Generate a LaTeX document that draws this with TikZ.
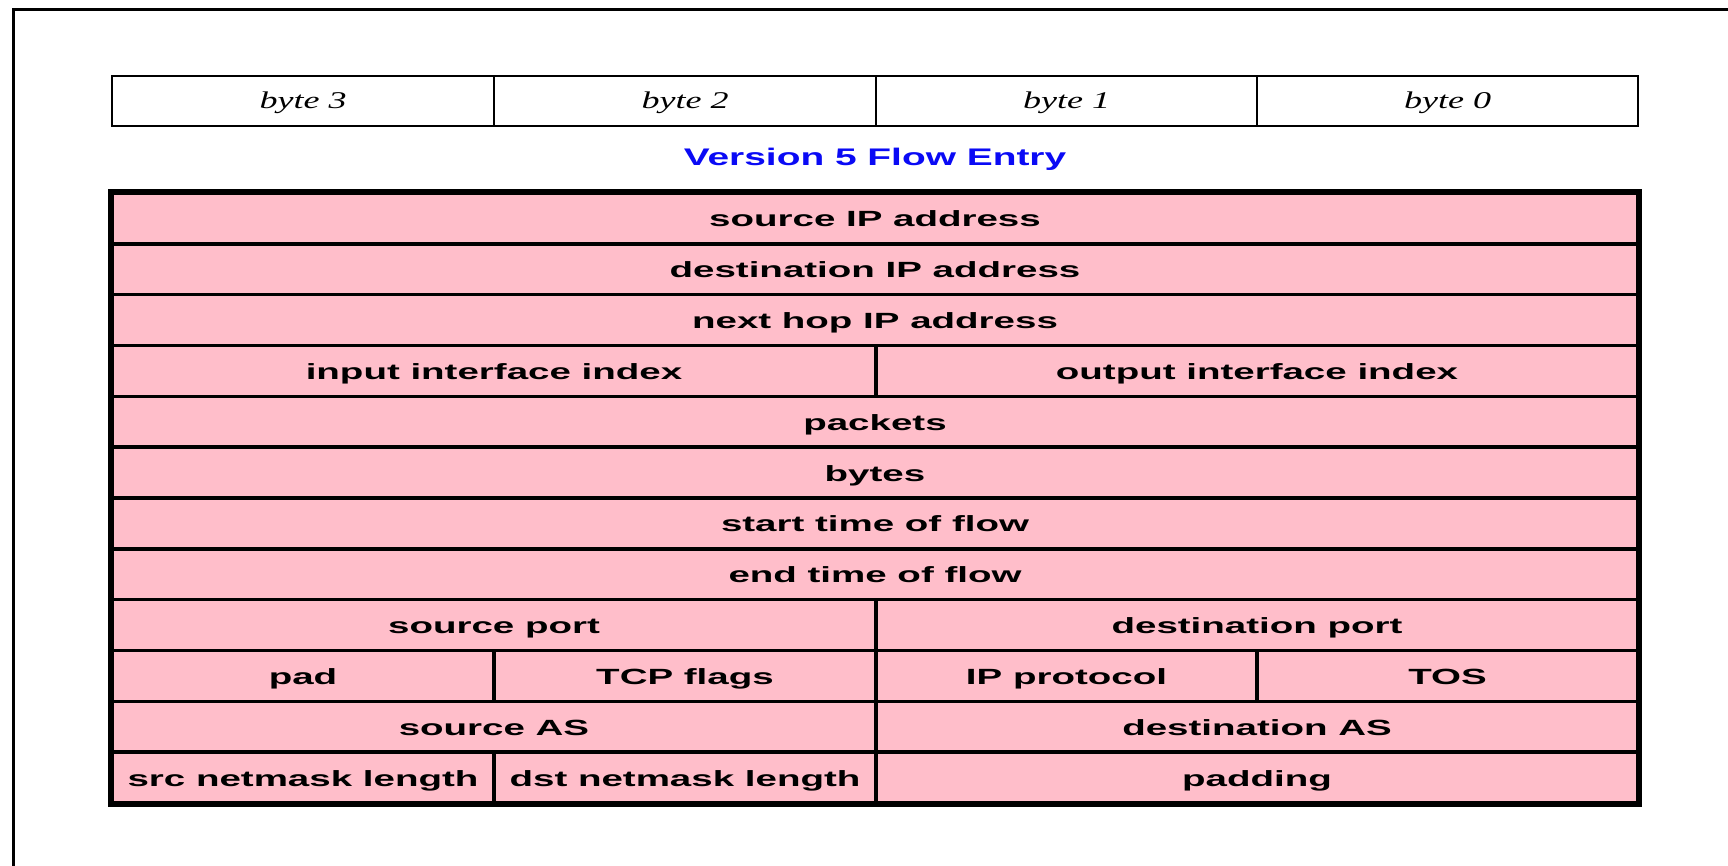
\documentclass[tikz,border=0pt]{standalone}
\usepackage{fontspec}
\newfontfamily\cellfont{Liberation Sans}[FakeStretch=1.75]
\newfontfamily\titlefont{Liberation Sans}[FakeStretch=1.62]
\newfontfamily\bytefont{Liberation Serif}[FakeStretch=1.5]
\definecolor{cellpink}{RGB}{255,190,202}
\definecolor{titleblue}{RGB}{10,10,245}
\tikzset{
  cellbox/.style={draw=black, fill=cellpink, line width=3.5pt, inner sep=0pt,
    text height=21pt, text depth=4pt,
    font=\cellfont\bfseries\fontsize{22}{24}\selectfont},
  bytebox/.style={draw=black, fill=white, line width=2pt, inner sep=0pt,
    text height=19pt, text depth=5pt,
    font=\bytefont\itshape\fontsize{24}{26}\selectfont},
  titletext/.style={text=titleblue, inner sep=0pt,
    font=\titlefont\bfseries\fontsize{24}{26}\selectfont},
}
\newcommand\flowcell[5]{%
  \pgfmathsetmacro\cya{193+(#4-1)*50.833}%
  \pgfmathsetmacro\cyc{\cya+25.4167}%
  \pgfmathsetmacro\cxc{(#2+#3)/2}%
  \pgfmathsetmacro\cw{#3-#2}%
  \node[cellbox, minimum width=\cw pt, minimum height=50.833pt] (#1) at (\cxc,\cyc) {#5};%
}
\newcommand\bytecell[4]{%
  \pgfmathsetmacro\cxc{(#2+#3)/2}%
  \pgfmathsetmacro\cw{#3-#2}%
  \node[bytebox, minimum width=\cw pt, minimum height=50pt] (#1) at (\cxc,101) {#4};%
}
\begin{document}
\begin{tikzpicture}[x=1pt,y=-1pt]
\useasboundingbox (0,0) rectangle (1728,865);
\fill[white] (0,0) rectangle (1728,865);
% outer frame (left and top edges only)
\draw[line width=3pt] (13,870) -- (13,9) -- (1735,9);
% byte header
\bytecell{b3}{112}{494}{byte 3}
\bytecell{b2}{494}{876}{byte 2}
\bytecell{b1}{876}{1257}{byte 1}
\bytecell{b0}{1257}{1638}{byte 0}
% title
\node[titletext] (title) at (875,159) {Version 5 Flow Entry};
% flow entry cells
\flowcell{srcip}{112}{1638}{1}{source IP address}
\flowcell{dstip}{112}{1638}{2}{destination IP address}
\flowcell{nexthop}{112}{1638}{3}{next hop IP address}
\flowcell{inif}{112}{876}{4}{input interface index}
\flowcell{outif}{876}{1638}{4}{output interface index}
\flowcell{packets}{112}{1638}{5}{packets}
\flowcell{bytes}{112}{1638}{6}{bytes}
\flowcell{start}{112}{1638}{7}{start time of flow}
\flowcell{end}{112}{1638}{8}{end time of flow}
\flowcell{srcport}{112}{876}{9}{source port}
\flowcell{dstport}{876}{1638}{9}{destination port}
\flowcell{pad}{112}{494}{10}{pad}
\flowcell{tcpflags}{494}{876}{10}{TCP flags}
\flowcell{proto}{876}{1257}{10}{IP protocol}
\flowcell{tos}{1257}{1638}{10}{TOS}
\flowcell{srcas}{112}{876}{11}{source AS}
\flowcell{dstas}{876}{1638}{11}{destination AS}
\flowcell{srcmask}{112}{494}{12}{src netmask length}
\flowcell{dstmask}{494}{876}{12}{dst netmask length}
\flowcell{padding}{876}{1638}{12}{padding}
% thicker outer border of the table
\draw[line width=4.5pt] (srcip.north west) rectangle (padding.south east);
\end{tikzpicture}
\end{document}
